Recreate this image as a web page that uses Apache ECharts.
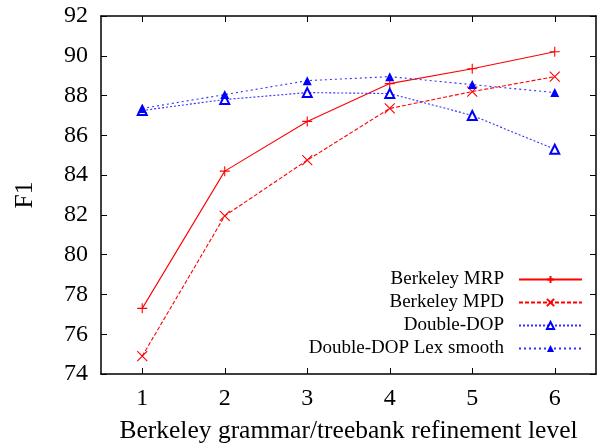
<!DOCTYPE html>
<html><head><meta charset="utf-8">
<script src="https://cdn.jsdelivr.net/npm/echarts@6/dist/echarts.min.js"></script>
<style>html,body{margin:0;padding:0;background:#fff}#c{width:599px;height:444px}</style>
</head><body><div id="c"></div>
<script>
const levels = [1, 2, 3, 4, 5, 6];
const mrp = [77.3, 84.2, 86.7, 88.6, 89.35, 90.2];
const mpd = [74.9, 81.95, 84.75, 87.35, 88.2, 88.95];
const ddop = [87.25, 87.8, 88.15, 88.1, 87.0, 85.3];
const ddopLex = [87.35, 88.05, 88.75, 88.95, 88.55, 88.15];
const yTicks = [74, 76, 78, 80, 82, 84, 86, 88, 90, 92];
const names = ['Berkeley MRP', 'Berkeley MPD', 'Double-DOP', 'Double-DOP Lex smooth'];

const font = 'Liberation Serif, Times New Roman, serif';
const plus = 'path://M0,5L10,5M5,0L5,10';
const cross = 'path://M0,0L10,10M10,0L0,10';

function pts(arr){ return levels.map((x,i)=>[x, arr[i]]); }

const chart = echarts.init(document.getElementById('c'), null, {renderer:'canvas'});
const axisLine = {show:true, lineStyle:{color:'#000', width:1.5}};
const tick = {show:true, inside:true, length:6, lineStyle:{color:'#000', width:1}};
chart.setOption({
  animation:false,
  textStyle:{fontFamily:font},
  grid:{left:101, top:16, right:3, bottom:70, containLabel:false, outerBoundsMode:'none'},
  xAxis:[{
    type:'value', min:0.5, max:6.5, position:'bottom',
    axisLine, splitLine:{show:false},
    axisTick:Object.assign({customValues:levels}, tick),
    axisLabel:{customValues:levels, color:'#000', fontSize:24, fontFamily:font, margin:13},
    name:'Berkeley grammar/treebank refinement level', nameLocation:'middle', nameGap:44,
    nameTextStyle:{color:'#000', fontSize:25.5, fontFamily:font}
  },{
    type:'value', min:0.5, max:6.5, position:'top',
    axisLine, splitLine:{show:false},
    axisTick:Object.assign({customValues:levels}, tick),
    axisLabel:{show:false}
  }],
  yAxis:[{
    type:'value', min:74, max:92, interval:2, position:'left',
    axisLine, splitLine:{show:false},
    axisTick:tick,
    axisLabel:{color:'#000', fontSize:24, fontFamily:font, margin:13},
    name:'F1', nameLocation:'middle', nameGap:63, nameRotate:90,
    nameTextStyle:{color:'#000', fontSize:25.5, fontFamily:font}
  },{
    type:'value', min:74, max:92, interval:2, position:'right',
    axisLine, splitLine:{show:false},
    axisTick:tick,
    axisLabel:{show:false}
  }],
  legend:{
    orient:'vertical', right:11, top:265, align:'right',
    itemWidth:63, itemHeight:9, itemGap:4,
    textStyle:{color:'#000', fontSize:19, fontFamily:font, padding:[0,10,0,0]},
    data:names
  },
  series:[
    {name:names[0], type:'line', data:pts(mrp), symbol:plus, symbolSize:10,
     lineStyle:{color:'#ff0000', width:1.1, type:'solid'},
     itemStyle:{color:'#ff0000', borderColor:'#ff0000', borderWidth:1.1}},
    {name:names[1], type:'line', data:pts(mpd), symbol:cross, symbolSize:10,
     lineStyle:{color:'#ff0000', width:1.1, type:[4,2]},
     itemStyle:{color:'#ff0000', borderColor:'#ff0000', borderWidth:1.1}},
    {name:names[2], type:'line', data:pts(ddop), symbol:'emptyTriangle', symbolSize:9,
     lineStyle:{color:'#3030ff', width:1.1, type:[2,2]},
     itemStyle:{color:'#0000ff', borderColor:'#0000ff', borderWidth:1.3}},
    {name:names[3], type:'line', data:pts(ddopLex), symbol:'triangle', symbolSize:9,
     lineStyle:{color:'#3030ff', width:1.1, type:[2,3]},
     itemStyle:{color:'#0000ff', borderColor:'#0000ff', borderWidth:0}}
  ]
});
</script></body></html>
